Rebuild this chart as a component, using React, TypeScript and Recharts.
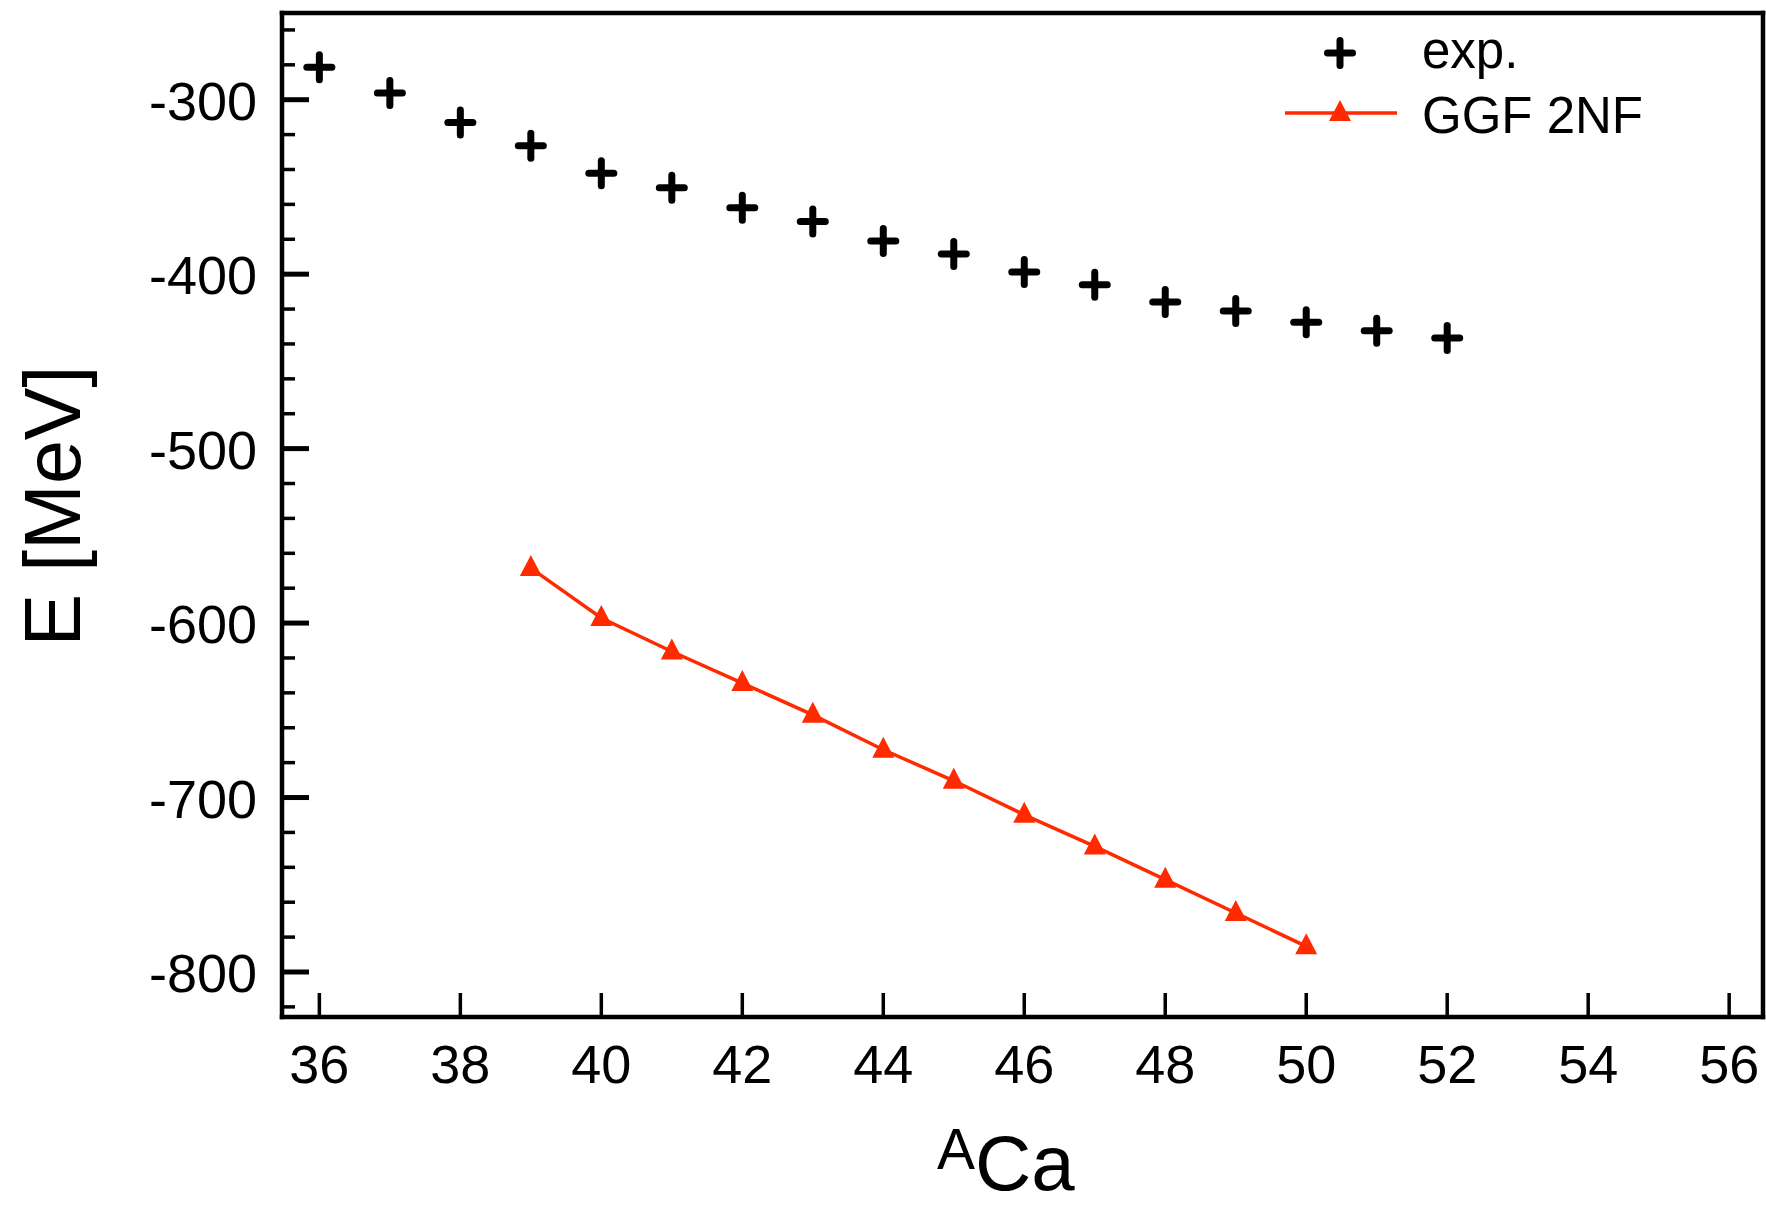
import React from 'react';
import { ComposedChart, Line, XAxis, YAxis, Label, ReferenceLine } from 'recharts';

// mass number A of the Ca isotopes
const massNumbers = [36, 37, 38, 39, 40, 41, 42, 43, 44, 45, 46, 47, 48, 49, 50, 51, 52];

// experimental binding energies [MeV]
const expEnergies = [
  -281.4, -296.1, -313.1, -326.4, -342.1, -350.4, -361.9, -369.8, -381.0, -388.4, -398.8, -406.1,
  -416.0, -421.1, -427.5, -432.4, -436.6,
];

// GGF 2NF results, A = 39..50
const ggfMass = [39, 40, 41, 42, 43, 44, 45, 46, 47, 48, 49, 50];
const ggfEnergies = [-568.5, -597.1, -616.3, -634.4, -652.6, -672.6, -690.4, -709.9, -728.0, -747.1, -766.2, -785.3];

const xTicks = [36, 38, 40, 42, 44, 46, 48, 50, 52, 54, 56];
const yTicks = [
  -820, -800, -780, -760, -740, -720, -700, -680, -660, -640, -620, -600, -580, -560, -540, -520, -500,
  -480, -460, -440, -420, -400, -380, -360, -340, -320, -300, -280, -260,
];

const X_DOMAIN = [35.47, 56.48];
const Y_DOMAIN = [-825.8, -250.3];

const FONT = '"Liberation Sans", Arial, Helvetica, sans-serif';
const RED = '#ff2a00';

const data = massNumbers.map((A, i) => {
  const j = ggfMass.indexOf(A);
  return { A, exp: expEnergies[i], ggf: j >= 0 ? ggfEnergies[j] : null };
});

const PlusMark = ({ cx, cy }: { cx: number; cy: number }) => (
  <g stroke="#000" strokeWidth={7} strokeLinecap="round">
    <line x1={cx - 12.5} x2={cx + 12.5} y1={cy} y2={cy} />
    <line x1={cx} x2={cx} y1={cy - 12.5} y2={cy + 12.5} />
  </g>
);

const Triangle = ({ cx, cy }: { cx: number; cy: number }) => (
  <path d={`M${cx},${cy - 13} L${cx + 11},${cy + 8} L${cx - 11},${cy + 8} Z`} fill={RED} />
);

const XTick = (props: any) => {
  const { x, y, payload } = props;
  return (
    <g>
      <line x1={x} x2={x} y1={y} y2={y - 24} stroke="#000" strokeWidth={3.5} />
      <text x={x} y={y + 66} textAnchor="middle" fontSize={54} fontFamily={FONT} fill="#000">
        {payload.value}
      </text>
    </g>
  );
};

const YTick = (props: any) => {
  const { x, y, payload } = props;
  const major = payload.value % 100 === 0;
  return (
    <g>
      <line x1={x} x2={x + (major ? 27 : 13)} y1={y} y2={y} stroke="#000" strokeWidth={major ? 5 : 3.5} />
      {major && (
        <text x={x - 25} y={y + 20} textAnchor="end" fontSize={54} fontFamily={FONT} fill="#000">
          {payload.value}
        </text>
      )}
    </g>
  );
};

const axisLine = { stroke: '#000', strokeWidth: 4.5, strokeLinecap: 'square' as const };

const App = () => {
  return (
    <div style={{ position: 'absolute', left: 0, top: 0, width: 1766, height: 1207, background: '#fff' }}>
      <ComposedChart width={1766} height={1207} data={data} margin={{ top: 13, right: 3, bottom: 0, left: 0 }}>
        <XAxis
          dataKey="A"
          type="number"
          domain={X_DOMAIN}
          ticks={xTicks}
          allowDataOverflow
          height={190}
          tickSize={0}
          tickMargin={0}
          tickLine={false}
          tick={<XTick />}
          axisLine={axisLine}
          interval={0}
        >
          <Label
            content={() => (
              <text x={937} y={1169} fontFamily={FONT} fill="#000">
                <tspan fontSize={57}>A</tspan>
                <tspan fontSize={78} dy={21}>Ca</tspan>
              </text>
            )}
          />
        </XAxis>
        <YAxis
          type="number"
          domain={Y_DOMAIN}
          ticks={yTicks}
          allowDataOverflow
          width={282}
          tickSize={0}
          tickMargin={0}
          tickLine={false}
          tick={<YTick />}
          axisLine={axisLine}
          interval={0}
        >
          <Label
            content={() => (
              <text
                x={80}
                y={506}
                transform="rotate(-90 80 506)"
                textAnchor="middle"
                fontSize={79}
                fontFamily={FONT}
                fill="#000"
              >
                E [MeV]
              </text>
            )}
          />
        </YAxis>
        {/* top and right edges of the frame */}
        <ReferenceLine y={Y_DOMAIN[1]} stroke="#000" strokeWidth={4.5} strokeLinecap="square" ifOverflow="visible" />
        <ReferenceLine x={X_DOMAIN[1]} stroke="#000" strokeWidth={4.5} strokeLinecap="square" ifOverflow="visible" />
        <Line
          dataKey="ggf"
          name="GGF 2NF"
          stroke={RED}
          strokeWidth={3.5}
          isAnimationActive={false}
          activeDot={false}
          dot={(p: any) =>
            p.payload.ggf == null ? <g key={p.key} /> : <Triangle key={p.key} cx={p.cx} cy={p.cy} />
          }
        />
        <Line
          dataKey="exp"
          name="exp."
          stroke="none"
          isAnimationActive={false}
          activeDot={false}
          dot={(p: any) => <PlusMark key={p.key} cx={p.cx} cy={p.cy} />}
        />
      </ComposedChart>
      <svg width={1766} height={160} style={{ position: 'absolute', left: 0, top: 0, pointerEvents: 'none' }}>
        <PlusMark cx={1340} cy={53} />
        <text x={1422} y={68} fontSize={51} fontFamily={FONT} fill="#000">
          exp.
        </text>
        <line x1={1285} x2={1397} y1={113} y2={113} stroke={RED} strokeWidth={3.5} />
        <Triangle cx={1340} cy={113} />
        <text x={1422} y={133} fontSize={51} fontFamily={FONT} fill="#000">
          GGF 2NF
        </text>
      </svg>
    </div>
  );
};

export default App;
